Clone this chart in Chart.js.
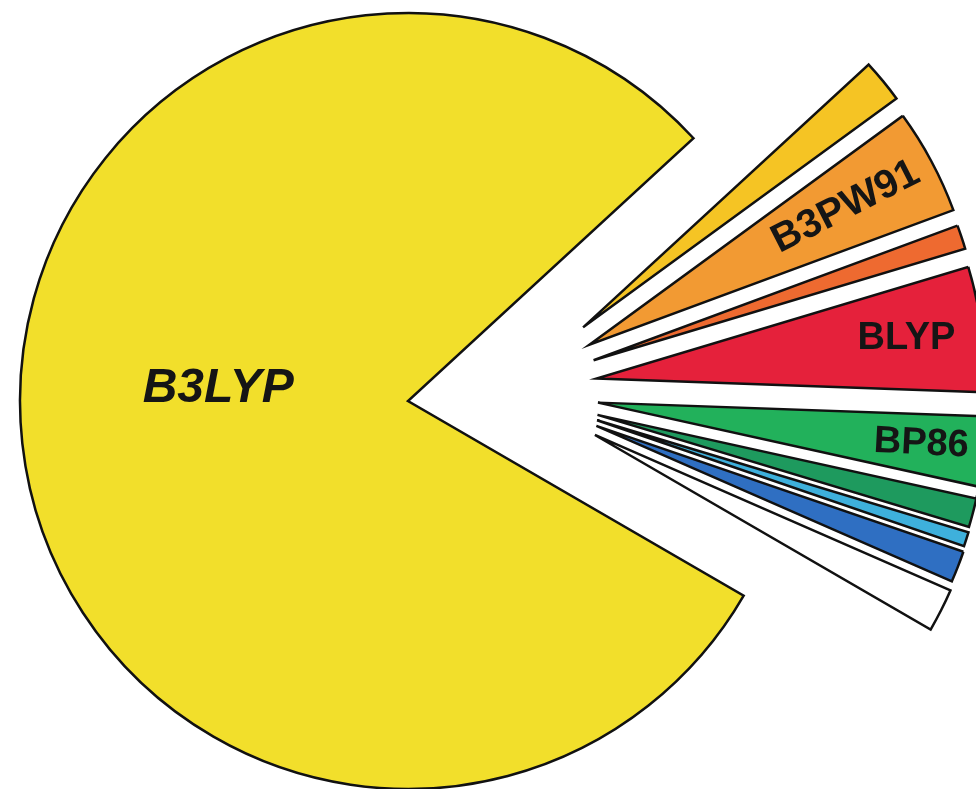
<!DOCTYPE html>
<html>
<head>
<meta charset="utf-8">
<script src="https://cdn.jsdelivr.net/npm/chart.js@4.4.1/dist/chart.umd.min.js"></script>
<style>
  html, body { margin: 0; padding: 0; background: #fff; }
  #wrap { width: 976px; height: 789px; position: relative; }
</style>
</head>
<body>
<div id="wrap"><canvas id="pieChart"></canvas></div>
<script>
// share of each functional (percent)
const methods = ['B3LYP', '', 'B3PW91', '', 'BLYP', 'BP86', '', '', '', ''];
const shares = [79.8, 1.8, 4.4, 1.0, 5.2, 2.9, 1.2, 0.6, 1.3, 1.8];
const colors = ['#f2df2b', '#f5c424', '#f29a33', '#ee6a30', '#e5213b', '#22b15b', '#1e9a5e', '#3eb0dc', '#2f6fc2', '#ffffff'];

// pull-out of the small slices and where the labels sit
const explode = [0, 190, 190, 190, 190, 190, 190, 190, 190, 190];
const labelDist = [0.49, 0, 0.75, 0, 0.805, 0.84, 0, 0, 0, 0];
const labelTurn = [10, 0, 0, 0, 0, 0, 0, 0, 0, 0];
const labelRot = [0, 0, -27, 0, 0, 3, 0, 0, 0, 0];
const labelFont = ['italic bold 48px', '', 'bold 40px', '', 'bold 38px', 'bold 38px', '', '', '', ''];

const rad = d => d * Math.PI / 180;

// moves the small slices out as a fan (half way between own angle and group angle)
const fanOut = {
  id: 'fanOut',
  beforeDatasetsDraw(chart) {
    const area = chart.chartArea;
    const cx = (area.left + area.right) / 2;
    const cy = (area.top + area.bottom) / 2;
    const arcs = chart.getDatasetMeta(0).data;
    let lo = Infinity, hi = -Infinity;
    arcs.forEach((a, i) => {
      if (explode[i] > 0) {
        lo = Math.min(lo, a.startAngle);
        hi = Math.max(hi, a.endAngle);
      }
    });
    const groupMid = (lo + hi) / 2;
    arcs.forEach((a, i) => {
      const mid = (a.startAngle + a.endAngle) / 2;
      const dir = groupMid + 0.5 * (mid - groupMid);
      a.x = cx + explode[i] * Math.cos(dir);
      a.y = cy + explode[i] * Math.sin(dir);
    });
  },
  afterDatasetsDraw(chart) {
    const ctx = chart.ctx;
    const arcs = chart.getDatasetMeta(0).data;
    arcs.forEach((a, i) => {
      if (!methods[i]) return;
      const mid = (a.startAngle + a.endAngle) / 2 + rad(labelTurn[i]);
      const r = a.outerRadius * labelDist[i];
      ctx.save();
      ctx.translate(a.x + r * Math.cos(mid), a.y + r * Math.sin(mid));
      ctx.rotate(rad(labelRot[i]));
      ctx.font = labelFont[i] + ' "Liberation Sans", Arial, sans-serif';
      ctx.fillStyle = '#151515';
      ctx.textAlign = 'center';
      ctx.textBaseline = 'middle';
      ctx.fillText(methods[i], 0, 0);
      ctx.restore();
    });
  }
};

new Chart(document.getElementById('pieChart'), {
  type: 'pie',
  data: {
    labels: methods,
    datasets: [{
      data: shares,
      backgroundColor: colors,
      borderColor: '#111111',
      borderWidth: 2.5,
      borderJoinStyle: 'miter'
    }]
  },
  options: {
    responsive: true,
    maintainAspectRatio: false,
    animation: false,
    events: [],
    rotation: 120.1,
    radius: 388,
    layout: { padding: { top: 13, right: 160, bottom: 0, left: 0 } },
    plugins: {
      legend: { display: false },
      tooltip: { enabled: false }
    }
  },
  plugins: [fanOut]
});
</script>
</body>
</html>
